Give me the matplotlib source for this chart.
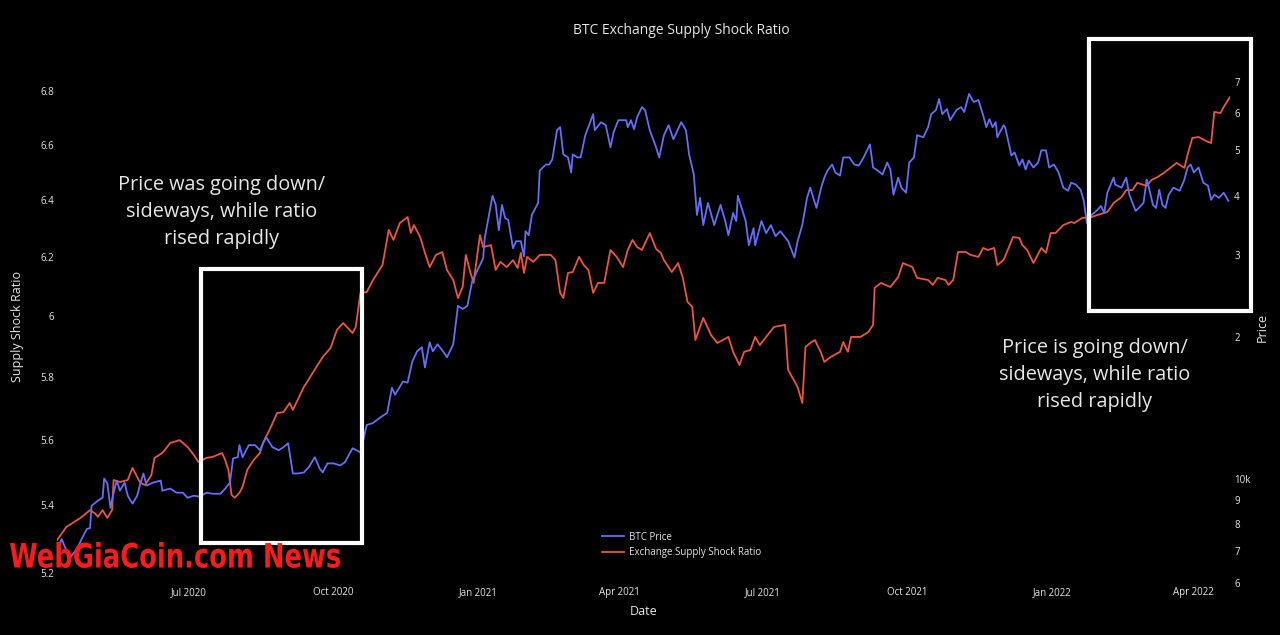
import matplotlib
matplotlib.use("Agg")
import matplotlib.pyplot as plt
import matplotlib.ticker as mticker
import matplotlib.dates as mdates
from matplotlib.patches import Rectangle, PathPatch
from matplotlib.textpath import TextPath
from matplotlib.font_manager import FontProperties
from matplotlib.transforms import Affine2D
import pandas as pd

# ---------------- data ----------------
price_dates = [
    "2020-04-08", "2020-04-11", "2020-04-16", "2020-04-21", "2020-04-24", "2020-04-27", "2020-04-29", "2020-04-30",
    "2020-05-04", "2020-05-07", "2020-05-08", "2020-05-10", "2020-05-12", "2020-05-14", "2020-05-16", "2020-05-18",
    "2020-05-21", "2020-05-23", "2020-05-26", "2020-05-29", "2020-05-31", "2020-06-02", "2020-06-04", "2020-06-08",
    "2020-06-13", "2020-06-14", "2020-06-19", "2020-06-23", "2020-06-27", "2020-06-30", "2020-07-04", "2020-07-08",
    "2020-07-12", "2020-07-16", "2020-07-21", "2020-07-24", "2020-07-27", "2020-07-29", "2020-08-01", "2020-08-02",
    "2020-08-04", "2020-08-08", "2020-08-12", "2020-08-15", "2020-08-19", "2020-08-23", "2020-08-27", "2020-08-30",
    "2020-09-02", "2020-09-05", "2020-09-08", "2020-09-12", "2020-09-15", "2020-09-19", "2020-09-22", "2020-09-24",
    "2020-09-27", "2020-10-01", "2020-10-05", "2020-10-08", "2020-10-13", "2020-10-18", "2020-10-22", "2020-10-26",
    "2020-10-31", "2020-11-04", "2020-11-07", "2020-11-09", "2020-11-14", "2020-11-17", "2020-11-20", "2020-11-23",
    "2020-11-26", "2020-11-28", "2020-12-01", "2020-12-03", "2020-12-06", "2020-12-10", "2020-12-12", "2020-12-16",
    "2020-12-19", "2020-12-22", "2020-12-25", "2020-12-28", "2020-12-31", "2021-01-04", "2021-01-05", "2021-01-10",
    "2021-01-12", "2021-01-14", "2021-01-16", "2021-01-18", "2021-01-20", "2021-01-23", "2021-01-25", "2021-01-28",
    "2021-01-30", "2021-01-31", "2021-02-02", "2021-02-04", "2021-02-08", "2021-02-09", "2021-02-13", "2021-02-15",
    "2021-02-17", "2021-02-20", "2021-02-22", "2021-02-24", "2021-02-27", "2021-03-01", "2021-03-02", "2021-03-05",
    "2021-03-07", "2021-03-10", "2021-03-15", "2021-03-16", "2021-03-20", "2021-03-23", "2021-03-26", "2021-03-28",
    "2021-03-31", "2021-04-05", "2021-04-06", "2021-04-08", "2021-04-10", "2021-04-12", "2021-04-15", "2021-04-17",
    "2021-04-20", "2021-04-24", "2021-04-26", "2021-04-29", "2021-05-02", "2021-05-05", "2021-05-10", "2021-05-13",
    "2021-05-15", "2021-05-18", "2021-05-20", "2021-05-22", "2021-05-24", "2021-05-27", "2021-05-31", "2021-06-04",
    "2021-06-07", "2021-06-09", "2021-06-12", "2021-06-14", "2021-06-15", "2021-06-20", "2021-06-22", "2021-06-25",
    "2021-06-26", "2021-06-30", "2021-07-03", "2021-07-06", "2021-07-09", "2021-07-12", "2021-07-17", "2021-07-21",
    "2021-07-23", "2021-07-26", "2021-07-29", "2021-07-31", "2021-08-04", "2021-08-07", "2021-08-09", "2021-08-11",
    "2021-08-14", "2021-08-16", "2021-08-19", "2021-08-21", "2021-08-25", "2021-08-28", "2021-08-31", "2021-09-03",
    "2021-09-07", "2021-09-09", "2021-09-12", "2021-09-15", "2021-09-18", "2021-09-20", "2021-09-22", "2021-09-25",
    "2021-09-27", "2021-09-30", "2021-10-02", "2021-10-05", "2021-10-07", "2021-10-11", "2021-10-14", "2021-10-16",
    "2021-10-19", "2021-10-21", "2021-10-23", "2021-10-26", "2021-10-28", "2021-11-01", "2021-11-04", "2021-11-06",
    "2021-11-09", "2021-11-12", "2021-11-15", "2021-11-18", "2021-11-20", "2021-11-22", "2021-11-24", "2021-11-26",
    "2021-11-27", "2021-12-01", "2021-12-02", "2021-12-06", "2021-12-08", "2021-12-11", "2021-12-13", "2021-12-15",
    "2021-12-17", "2021-12-20", "2021-12-23", "2021-12-25", "2021-12-28", "2021-12-30", "2022-01-02", "2022-01-05",
    "2022-01-08", "2022-01-11", "2022-01-13", "2022-01-16", "2022-01-19", "2022-01-21", "2022-01-23", "2022-01-26",
    "2022-01-29", "2022-02-01", "2022-02-03", "2022-02-05", "2022-02-09", "2022-02-10", "2022-02-14", "2022-02-17",
    "2022-02-19", "2022-02-21", "2022-02-23", "2022-02-25", "2022-02-28", "2022-03-02", "2022-03-03", "2022-03-06",
    "2022-03-08", "2022-03-10", "2022-03-12", "2022-03-14", "2022-03-16", "2022-03-19", "2022-03-23", "2022-03-26",
    "2022-03-28", "2022-03-30", "2022-04-01", "2022-04-04", "2022-04-07", "2022-04-10", "2022-04-12", "2022-04-14",
    "2022-04-17", "2022-04-20", "2022-04-23",
]
btc_price = [
    7070, 7430, 6760, 7110, 7470, 7810, 7840, 8750,
    8970, 9100, 10000, 9760, 8660, 9330, 9900, 9420,
    9800, 9190, 8840, 9190, 9760, 10250, 9660, 9800,
    9900, 9420, 9520, 9330, 9330, 9100, 9190, 9150,
    9330, 9280, 9280, 9520, 9800, 11040, 11100, 11780,
    11100, 11780, 11780, 11490, 12250, 11660, 11490, 11660,
    11890, 10250, 10250, 10300, 10560, 11100, 10510, 10300,
    10770, 10770, 10660, 10820, 11600, 11370, 13000, 13130,
    13520, 13800, 15610, 15080, 16090, 16010, 17760, 18660,
    19040, 17240, 19510, 18660, 19320, 18570, 18120, 19320,
    23320, 22980, 23320, 26270, 27600, 29430, 32490, 40020,
    38270, 33810, 38270, 35880, 35530, 30930, 32020, 32020,
    29720, 33640, 32980, 36420, 38650, 45300, 46650, 46650,
    47820, 55210, 56030, 49020, 48300, 44850, 49020, 48300,
    48300, 53860, 59730, 55210, 57410, 56580, 50750, 54670,
    57980, 57980, 56030, 57980, 55480, 58850, 61830, 60920,
    55210, 50750, 48300, 53860, 56580, 52800, 57410, 55210,
    49020, 44410, 36420, 39620, 34660, 38650, 34660, 38270,
    35350, 32980, 36780, 35350, 40020, 35350, 31390, 34150,
    31390, 35350, 33310, 34660, 32820, 33640, 32020, 29580,
    32020, 34660, 39620, 41640, 37700, 41640, 43750, 45300,
    46650, 44850, 44190, 48300, 48300, 46650, 46420, 48300,
    51500, 45970, 45300, 44410, 47110, 45520, 40220, 43750,
    41640, 40620, 47110, 48300, 53860, 53330, 56030, 59730,
    60920, 64340, 59730, 61230, 57980, 60920, 61830, 60320,
    65950, 63390, 64020, 59430, 56030, 58270, 56030, 57410,
    53330, 56580, 56030, 48780, 49500, 46420, 47820, 45520,
    47580, 45970, 47110, 50000, 50000, 45970, 46650, 44850,
    41640, 41020, 42680, 42260, 41230, 39040, 35000, 36420,
    37150, 38080, 36780, 40620, 43750, 42260, 41640, 43750,
    40220, 38650, 37150, 37700, 38650, 43320, 42260, 38270,
    37700, 41230, 38270, 37700, 40220, 41640, 41020, 43320,
    45970, 46650, 44850, 45970, 42680, 42050, 39230, 40220,
    39620, 40620, 39040,
]

ratio_dates = [
    "2020-04-08", "2020-04-14", "2020-04-18", "2020-04-23", "2020-04-29", "2020-05-02", "2020-05-04", "2020-05-07",
    "2020-05-10", "2020-05-13", "2020-05-14", "2020-05-18", "2020-05-23", "2020-05-26", "2020-05-31", "2020-06-03",
    "2020-06-07", "2020-06-09", "2020-06-14", "2020-06-19", "2020-06-25", "2020-06-30", "2020-07-04", "2020-07-07",
    "2020-07-12", "2020-07-16", "2020-07-22", "2020-07-24", "2020-07-26", "2020-07-28", "2020-07-30", "2020-08-02",
    "2020-08-04", "2020-08-07", "2020-08-11", "2020-08-15", "2020-08-17", "2020-08-22", "2020-08-26", "2020-08-30",
    "2020-09-03", "2020-09-05", "2020-09-12", "2020-09-16", "2020-09-20", "2020-09-24", "2020-09-29", "2020-10-03",
    "2020-10-07", "2020-10-13", "2020-10-15", "2020-10-18", "2020-10-22", "2020-10-26", "2020-11-01", "2020-11-05",
    "2020-11-08", "2020-11-12", "2020-11-17", "2020-11-19", "2020-11-21", "2020-11-25", "2020-11-28", "2020-12-01",
    "2020-12-05", "2020-12-09", "2020-12-12", "2020-12-16", "2020-12-19", "2020-12-22", "2020-12-24", "2020-12-27",
    "2020-12-29", "2020-12-30", "2021-01-02", "2021-01-04", "2021-01-09", "2021-01-12", "2021-01-15", "2021-01-19",
    "2021-01-23", "2021-01-26", "2021-01-28", "2021-01-30", "2021-02-01", "2021-02-05", "2021-02-09", "2021-02-16",
    "2021-02-19", "2021-02-22", "2021-02-24", "2021-02-27", "2021-03-02", "2021-03-06", "2021-03-09", "2021-03-12",
    "2021-03-15", "2021-03-18", "2021-03-22", "2021-03-26", "2021-03-30", "2021-04-03", "2021-04-06", "2021-04-09",
    "2021-04-12", "2021-04-15", "2021-04-20", "2021-04-24", "2021-04-27", "2021-04-29", "2021-05-04", "2021-05-08",
    "2021-05-11", "2021-05-14", "2021-05-17", "2021-05-19", "2021-05-24", "2021-05-29", "2021-06-02", "2021-06-09",
    "2021-06-12", "2021-06-16", "2021-06-19", "2021-06-23", "2021-06-26", "2021-06-29", "2021-07-03", "2021-07-08",
    "2021-07-15", "2021-07-17", "2021-07-23", "2021-07-26", "2021-07-28", "2021-07-31", "2021-08-03", "2021-08-07",
    "2021-08-09", "2021-08-13", "2021-08-19", "2021-08-21", "2021-08-24", "2021-08-26", "2021-09-01", "2021-09-06",
    "2021-09-09", "2021-09-10", "2021-09-14", "2021-09-20", "2021-09-25", "2021-09-28", "2021-10-04", "2021-10-07",
    "2021-10-14", "2021-10-17", "2021-10-20", "2021-10-25", "2021-10-27", "2021-10-30", "2021-11-02", "2021-11-07",
    "2021-11-10", "2021-11-15", "2021-11-18", "2021-11-21", "2021-11-25", "2021-11-27", "2021-12-01", "2021-12-07",
    "2021-12-11", "2021-12-13", "2021-12-16", "2021-12-20", "2021-12-25", "2021-12-28", "2021-12-31", "2022-01-03",
    "2022-01-08", "2022-01-13", "2022-01-15", "2022-01-20", "2022-01-26", "2022-01-30", "2022-02-05", "2022-02-09",
    "2022-02-14", "2022-02-17", "2022-02-21", "2022-02-24", "2022-03-02", "2022-03-05", "2022-03-09", "2022-03-13",
    "2022-03-17", "2022-03-21", "2022-03-26", "2022-03-28", "2022-03-31", "2022-04-04", "2022-04-10", "2022-04-12",
    "2022-04-14", "2022-04-18", "2022-04-20", "2022-04-24",
]
shock_ratio = [
    5.296, 5.335, 5.347, 5.362, 5.385, 5.376, 5.365, 5.385,
    5.362, 5.385, 5.476, 5.470, 5.476, 5.513, 5.467, 5.461,
    5.491, 5.544, 5.559, 5.590, 5.599, 5.578, 5.553, 5.531,
    5.544, 5.547, 5.559, 5.537, 5.507, 5.431, 5.422, 5.437,
    5.455, 5.507, 5.537, 5.559, 5.590, 5.640, 5.684, 5.687,
    5.716, 5.694, 5.767, 5.799, 5.832, 5.864, 5.894, 5.953,
    5.976, 5.943, 5.963, 6.077, 6.080, 6.121, 6.172, 6.294,
    6.259, 6.318, 6.339, 6.283, 6.311, 6.269, 6.214, 6.165,
    6.207, 6.217, 6.155, 6.121, 6.060, 6.097, 6.207, 6.145,
    6.111, 6.155, 6.276, 6.234, 6.241, 6.155, 6.183, 6.165,
    6.189, 6.162, 6.214, 6.145, 6.200, 6.183, 6.207, 6.207,
    6.189, 6.077, 6.060, 6.145, 6.148, 6.200, 6.172, 6.155,
    6.077, 6.111, 6.111, 6.224, 6.200, 6.165, 6.224, 6.259,
    6.234, 6.224, 6.283, 6.228, 6.214, 6.189, 6.148, 6.179,
    6.128, 6.047, 6.030, 5.920, 5.993, 5.936, 5.910, 5.930,
    5.881, 5.838, 5.881, 5.887, 5.930, 5.903, 5.930, 5.963,
    5.970, 5.822, 5.767, 5.716, 5.897, 5.910, 5.920, 5.877,
    5.848, 5.864, 5.881, 5.913, 5.881, 5.930, 5.930, 5.946,
    5.970, 6.094, 6.111, 6.097, 6.131, 6.179, 6.165, 6.128,
    6.121, 6.104, 6.128, 6.121, 6.104, 6.121, 6.217, 6.217,
    6.207, 6.200, 6.231, 6.224, 6.231, 6.172, 6.189, 6.269,
    6.266, 6.241, 6.224, 6.179, 6.231, 6.214, 6.283, 6.283,
    6.311, 6.322, 6.318, 6.336, 6.339, 6.347, 6.357, 6.389,
    6.410, 6.435, 6.435, 6.461, 6.450, 6.471, 6.482, 6.497,
    6.515, 6.533, 6.515, 6.562, 6.624, 6.628, 6.610, 6.606,
    6.721, 6.717, 6.740, 6.777,
]

ratio_ticks = [5.2, 5.4, 5.6, 5.8, 6.0, 6.2, 6.4, 6.6, 6.8]
ratio_tick_labels = ["5.2", "5.4", "5.6", "5.8", "6", "6.2", "6.4", "6.6", "6.8"]
price_ticks = [6000, 7000, 8000, 9000, 10000, 20000, 30000, 40000, 50000, 60000, 70000]
price_tick_labels = ["6", "7", "8", "9", "10k", "2", "3", "4", "5", "6", "7"]
month_ticks = ["2020-07-01", "2020-10-01", "2021-01-01", "2021-04-01", "2021-07-01",
               "2021-10-01", "2022-01-01", "2022-04-01"]

BLUE = "#636EFA"
RED = "#EF553B"
TXT = "#e6e6e6"
FONT = ["Open Sans", "DejaVu Sans"]
plt.rcParams["font.family"] = FONT

W, H = 1280, 635
fig = plt.figure(figsize=(W / 100, H / 100), dpi=100, facecolor="black")
ax = fig.add_axes([57 / W, 1 - 583 / H, (1230 - 57) / W, (583 - 71) / H])
ax.set_facecolor("black")
ax2 = ax.twinx()

pdates = pd.to_datetime(price_dates)
rdates = pd.to_datetime(ratio_dates)

l1, = ax2.plot(pdates, btc_price, color=BLUE, lw=1.3, label="BTC Price")
l2, = ax.plot(rdates, shock_ratio, color=RED, lw=1.3, label="Exchange Supply Shock Ratio")

ax.set_yscale("log")
ax2.set_yscale("log")
ax.set_ylim(5.171, 6.876)
ax2.set_ylim(5990, 73800)
ax.set_xlim(pd.Timestamp("2020-04-08"), pd.Timestamp("2022-04-24"))

ax.yaxis.set_major_locator(mticker.FixedLocator(ratio_ticks))
ax.yaxis.set_major_formatter(mticker.FixedFormatter(ratio_tick_labels))
ax.yaxis.set_minor_locator(mticker.NullLocator())
ax2.yaxis.set_major_locator(mticker.FixedLocator(price_ticks))
ax2.yaxis.set_major_formatter(mticker.FixedFormatter(price_tick_labels))
ax2.yaxis.set_minor_locator(mticker.NullLocator())

ax.xaxis.set_major_locator(mticker.FixedLocator(mdates.date2num(pd.to_datetime(month_ticks))))
ax.xaxis.set_major_formatter(mdates.DateFormatter("%b %Y"))

for a in (ax, ax2):
    for s in a.spines.values():
        s.set_visible(False)
    a.tick_params(axis="both", which="both", length=0, colors=TXT, labelsize=7)
ax.tick_params(axis="y", pad=2)
ax2.tick_params(axis="y", pad=3)
ax.tick_params(axis="x", pad=3)

ax.set_ylabel("Supply Shock Ratio", color=TXT, fontsize=9, labelpad=12)
ax2.set_ylabel("Price", color=TXT, fontsize=9, labelpad=4)
ax.set_xlabel("Date", color=TXT, fontsize=9, labelpad=5)

fig.text(681 / W, 1 - 31 / H, "BTC Exchange Supply Shock Ratio", color=TXT,
         fontsize=10, ha="center", va="center")

leg = fig.legend(handles=[l1, l2], loc="center left", bbox_to_anchor=(597 / W, 1 - 545 / H),
                 frameon=False, fontsize=7, labelcolor=TXT, handlelength=2.3,
                 handletextpad=0.5, labelspacing=0.45, borderpad=0)

# annotations
fig.text(222 / W, 1 - 212 / H, "Price was going down/\nsideways, while ratio\nrised rapidly",
         color=TXT, fontsize=14.3, ha="center", va="center", linespacing=1.45)
fig.text(1095 / W, 1 - 375 / H, "Price is going down/\nsideways, while ratio\nrised rapidly",
         color=TXT, fontsize=14.3, ha="center", va="center", linespacing=1.45)

# highlight boxes
fig.add_artist(Rectangle((201 / W, 1 - 543 / H), (362 - 201) / W, (543 - 269) / H,
                         transform=fig.transFigure, fill=False, ec="white", lw=3, zorder=5))
fig.add_artist(Rectangle((1089 / W, 1 - 311 / H), (1251 - 1089) / W, (311 - 39) / H,
                         transform=fig.transFigure, fill=False, ec="white", lw=3, zorder=5))

# watermark (condensed bold lettering)
tp = TextPath((0, 0), "WebGiaCoin.com News", size=40,
              prop=FontProperties(family="DejaVu Sans", weight="bold"))
bb = tp.get_extents()
sx = (340 - 10) / bb.width
sy = (568 - 542) / bb.height
tr = Affine2D().translate(-bb.x0, -bb.y0).scale(sx, sy).translate(10, H - 568)
wm = PathPatch(tp, transform=tr, facecolor="#ff1a1a", edgecolor="none", zorder=10)
fig.add_artist(wm)

fig.savefig("out.png", dpi=100, facecolor="black")
